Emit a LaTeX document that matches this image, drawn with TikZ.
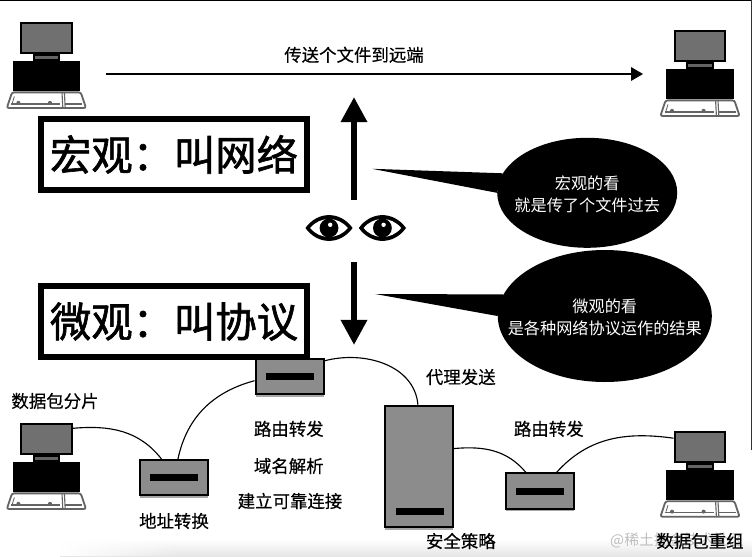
\documentclass[tikz,border=0pt]{standalone}
\usepackage{fontspec}
\setmainfont{Noto Sans CJK SC}
\newfontfamily\titlefont[FakeBold=1.5]{Noto Sans CJK SC}
\newfontfamily\tagfont[FakeBold=0.4]{Noto Sans CJK SC}
\usepackage{xcolor}
\definecolor{netgray}{RGB}{140,140,140}
\definecolor{screengray}{RGB}{112,112,112}
\definecolor{traygray}{RGB}{100,100,100}
\definecolor{markgray}{RGB}{190,190,190}
\usepackage{tikz}
\usetikzlibrary{arrows.meta, positioning, shapes.geometric, shadows, fadings}

\tikzset{
  titlebox/.style={draw=black, fill=white, line width=4.3pt, minimum width=6.65cm,
    minimum height=1.78cm, inner sep=0pt, font=\titlefont\fontsize{29.4}{32}\selectfont},
  bubble/.style={ellipse, fill=black, inner sep=0pt},
  saytext/.style={text=white, align=center, inner sep=0pt, font=\fontsize{11.5}{16}\selectfont},
  netbox/.style={draw=black, fill=netgray, line width=1.5pt, minimum width=1.7cm,
    minimum height=0.88cm, inner sep=0pt,
    drop shadow={shadow xshift=0pt, shadow yshift=-2pt, fill=black, opacity=0.35}},
  portbar/.style={fill=black, minimum width=1.2cm, minimum height=0.175cm, inner sep=0pt},
  tag/.style={font=\tagfont\fontsize{12.4}{15}\selectfont, inner sep=0pt},
  link/.style={black, line width=0.8pt},
  pics/computer/.style={code={
    \node[draw=black, fill=screengray, line width=1.5pt, minimum width=1.27cm,
      minimum height=0.74cm, inner sep=0pt] (-screen) at (0,0) {};
    \fill[black] (-0.34,-0.38) rectangle (0.34,-0.58);
    \fill[traygray] (-0.29,-0.45) rectangle (0.29,-0.52);
    \node[fill=black, minimum width=1.68cm, minimum height=0.76cm, inner sep=0pt] (-base) at (0,-0.95) {};
    % Keyboard tray
    \draw[traygray, fill=white, line width=1.3pt, rounded corners=1.5pt]
      (-0.86,-1.36) -- (0.86,-1.36) -- (0.99,-1.75) -- (-0.99,-1.75) -- cycle;
    \draw[traygray, line width=0.8pt] (0.39,-1.36) -- (0.41,-1.75);
    \draw[traygray, line width=0.8pt] (0.45,-1.36) -- (0.47,-1.75);
    \draw[traygray, line width=0.8pt] (-0.88,-1.65) -- (0.34,-1.65);
    \draw[traygray, line width=0.8pt] (0.47,-1.65) -- (0.9,-1.65);
    \draw[traygray, line width=0.6pt] (-0.8,-1.46) -- (-0.85,-1.62);
    \fill[traygray] (-0.7,-1.62) circle (0.05) (0.09,-1.62) circle (0.05);
  }},
  pics/eye/.style={code={
    \fill[black] (-0.59,0) .. controls (-0.28,0.43) and (0.28,0.43) .. (0.59,0)
      .. controls (0.28,-0.43) and (-0.28,-0.43) .. cycle;
    \fill[white] (-0.47,0) .. controls (-0.22,0.3) and (0.22,0.3) .. (0.47,0)
      .. controls (0.22,-0.3) and (-0.22,-0.3) .. cycle;
    \fill[black] (0,0) circle (0.235);
    \fill[white] (0.03,0.08) circle (0.055);
  }}
}

\begin{document}
\begin{tikzpicture}
  \useasboundingbox (0,0) rectangle (18.8,13.9);
  \fill[white] (0,0) rectangle (18.8,13.9);
  % Pale band along the bottom, fading out to the left
  \shade[top color=white, bottom color=black!10] (1.5,0) rectangle (18.8,0.42);
  \fill[white, path fading=east] (1.5,0) rectangle (4.5,0.42);
  % Frame pieces on top and right
  \fill[black] (0,13.87) rectangle (18.8,13.9);
  \fill[black!80] (18.77,2.65) rectangle (18.8,13.9);

  % Watermark under the last label
  \node[font=\fontsize{10.6}{13}\selectfont, markgray, inner sep=0pt] (mark) at (16.92,0.39) {@稀土掘金技术社区};

  % Computers
  \pic (pca) at (1.16,12.95) {computer};
  \pic (pcb) at (17.5,12.75) {computer};
  \pic (pcc) at (1.16,2.925) {computer};
  \pic (pcd) at (17.5,2.73) {computer};

  % File transfer on top
  \coordinate (senda) at (2.65,12.05);
  \coordinate (sendb) at (16.08,12.05);
  \draw[-{Triangle[width=0.32cm,length=0.3cm]}, line width=2.1pt] (senda) -- (sendb);
  \node[tag] (sendt) at (8.85,12.53) {传送个文件到远端};

  % Title boxes
  \node[titlebox] (macro) at (4.35,10.04) {宏观^^^^ff1a叫网络};
  \node[titlebox] (micro) at (4.35,5.86) {微观^^^^ff1a叫协议};

  % Eyes and the two big arrows
  \pic (eyea) at (8.225,8.2) {eye};
  \pic (eyeb) at (9.56,8.2) {eye};
  \coordinate (upa) at (8.85,8.9);
  \coordinate (upb) at (8.85,11.475);
  \coordinate (downa) at (8.85,7.35);
  \coordinate (downb) at (8.85,5.275);
  \draw[-{Triangle[width=0.63cm,length=0.63cm]}, line width=4.3pt] (upa) -- (upb);
  \draw[-{Triangle[width=0.63cm,length=0.63cm]}, line width=4.3pt] (downa) -- (downb);

  % Speech bubbles
  \node[bubble, minimum width=4.5cm, minimum height=2.75cm] (saya) at (14.68,9.08) {};
  \node[bubble, minimum width=5.35cm, minimum height=3.3cm] (sayb) at (15.12,6.0) {};
  \node[saytext] (sayat) at (14.68,9.04) {宏观的看\\就是传了个文件过去};
  \node[saytext] (saybt) at (15.12,5.97) {微观的看\\是各种网络协议运作的结果};
  \coordinate (tipa) at (9.3,9.68);
  \coordinate (tipb) at (9.38,6.55);
  \fill[black] (tipa) -- (saya.167) -- (saya.180) -- cycle;
  \fill[black] (tipb) -- (sayb.168) -- (sayb.180) -- cycle;

  % Network boxes
  \node[netbox] (swa) at (4.35,1.96) {};
  \node[netbox] (swb) at (7.24,4.49) {};
  \node[netbox, minimum height=3.03cm] (srv) at (10.475,2.24) {};
  \node[netbox] (swc) at (13.51,1.625) {};
  \node[portbar] (bara) at (swa) {};
  \node[portbar] (barb) at (swb) {};
  \node[portbar] (barc) at (10.5,1.125) {};
  \node[portbar] (bard) at (swc) {};

  % Links along the path
  \draw[link] (pcc-screen.22) to[out=5, in=128] (swa.124);
  \draw[link] (swa.78) to[out=78, in=195] (swb.187);
  \draw[link] (swb.24) to[out=15, in=95] (srv.91);
  \draw[link] (srv.27) to[out=5, in=130] (swc.128);
  \draw[link] (swc.49) to[out=48, in=172] (pcd-screen.162);

  % Labels
  \node[tag] (frag) at (1.375,3.875) {数据包分片};
  \node[tag] (route) at (7.22,3.18) {路由转发};
  \node[tag] (dns) at (7.22,2.25) {域名解析};
  \node[tag] (conn) at (7.25,1.375) {建立可靠连接};
  \node[tag] (nat) at (4.35,0.875) {地址转换};
  \node[tag] (proxy) at (11.52,4.475) {代理发送};
  \node[tag] (routeb) at (13.72,3.18) {路由转发};
  \node[tag] (policy) at (11.52,0.375) {安全策略};
  \node[tag] (merge) at (17.5,0.375) {数据包重组};
\end{tikzpicture}
\end{document}
